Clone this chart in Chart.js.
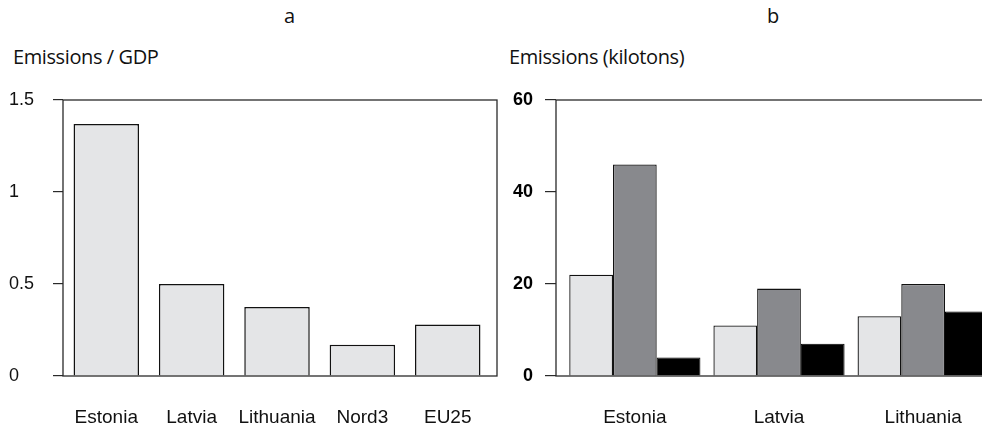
<!DOCTYPE html>
<html>
<head>
<meta charset="utf-8">
<script src="https://cdn.jsdelivr.net/npm/chart.js@4/dist/chart.umd.min.js"></script>
<style>
  html, body { margin: 0; padding: 0; background: #fff; overflow: hidden; }
  body { width: 982px; height: 426px; position: relative; }
  .cap { position: absolute; font-family: "Open Sans", sans-serif; font-size: 20px; color: #111; white-space: nowrap; letter-spacing: -0.4px; line-height: 1; }
  canvas { position: absolute; top: 0; }
</style>
</head>
<body>
<div class="cap" style="left:284px; top:6px;">a</div>
<div class="cap" style="left:767px; top:6px;">b</div>
<div class="cap" style="left:13px; top:47px;">Emissions / GDP</div>
<div class="cap" style="left:509px; top:47px;">Emissions (kilotons)</div>
<div id="leftBox" style="position:absolute;left:0;top:0;width:520px;height:426px;"><canvas id="leftChart"></canvas></div>
<div id="rightBox" style="position:absolute;left:500px;top:0;width:492px;height:426px;"><canvas id="rightChart"></canvas></div>
<script>
// panel a: emissions per unit of GDP
var regions = ["Estonia", "Latvia", "Lithuania", "Nord3", "EU25"];
var perGdp = [1.37, 0.50, 0.375, 0.17, 0.28];
var perGdpTicks = [0, 0.5, 1, 1.5];

// panel b: emissions in kilotons, three series per country
var countries = ["Estonia", "Latvia", "Lithuania"];
var kilotons1 = [22, 11, 13];
var kilotons2 = [46, 19, 20];
var kilotons3 = [4, 7, 14];
var kilotonTicks = [0, 20, 40, 60];

var lineColor = "#2a2a2a";
var arial = "'Liberation Sans', Arial, sans-serif";
var tickFont = { family: arial, size: 18 };
var labelFont = { family: arial, size: 19 };

// box around the plotting area
var frame = {
  id: "frame",
  afterDatasetsDraw(chart) {
    let a = chart.chartArea;
    let c = chart.ctx;
    c.save();
    c.strokeStyle = lineColor;
    c.lineWidth = 1.3;
    c.strokeRect(a.left, a.top, a.right - a.left, a.bottom - a.top);
    c.restore();
  }
};

function toPoints(values) {
  return values.map((v, i) => ({ x: i + 1, y: v }));
}

function xAxis(names, min, max) {
  return {
    type: "linear",
    min: min,
    max: max,
    offset: false,
    grid: { display: false, drawTicks: false },
    border: { display: false },
    afterBuildTicks: s => { s.ticks = names.map((n, i) => ({ value: i + 1 })); },
    afterFit: s => { s.height = 50; },
    ticks: {
      autoSkip: false,
      maxRotation: 0,
      padding: 30,
      color: "#111",
      font: labelFont,
      callback: (v, i) => names[i]
    }
  };
}

new Chart(document.getElementById("leftChart"), {
  type: "bar",
  data: {
    datasets: [{
      data: toPoints(perGdp),
      backgroundColor: "#e4e5e7",
      borderColor: "#111",
      borderWidth: 1.5,
      barPercentage: 0.767,
      categoryPercentage: 1
    }]
  },
  options: {
    responsive: true,
    maintainAspectRatio: false,
    animation: false,
    layout: { padding: { left: 9, right: 23, top: 100, bottom: 0 } },
    plugins: { legend: { display: false }, tooltip: { enabled: false } },
    scales: {
      x: xAxis(regions, 0.493, 5.577),
      y: {
        min: 0,
        max: 1.5,
        afterBuildTicks: s => { s.ticks = perGdpTicks.map(v => ({ value: v })); },
        afterFit: s => { s.width = 54; },
        grid: { drawOnChartArea: false, tickLength: 10, color: lineColor, lineWidth: 1.2 },
        border: { display: false },
        ticks: { crossAlign: "far", padding: 18, color: "#111", font: tickFont, callback: v => String(v) }
      }
    }
  },
  plugins: [frame]
});

new Chart(document.getElementById("rightChart"), {
  type: "bar",
  data: {
    datasets: [{
      data: toPoints(kilotons1),
      backgroundColor: "#e4e5e7",
      borderColor: "#111",
      borderWidth: 1.3
    }, {
      data: toPoints(kilotons2),
      backgroundColor: "#88898d",
      borderColor: "#111",
      borderWidth: 1.3
    }, {
      data: toPoints(kilotons3),
      backgroundColor: "#000",
      borderColor: "#000",
      borderWidth: 1
    }]
  },
  options: {
    responsive: true,
    maintainAspectRatio: false,
    animation: false,
    datasets: { bar: { barPercentage: 1, categoryPercentage: 0.91 } },
    layout: { padding: { left: 0, right: 2, top: 100, bottom: 0 } },
    plugins: { legend: { display: false }, tooltip: { enabled: false } },
    scales: {
      x: xAxis(countries, 0.453, 3.446),
      y: {
        min: 0,
        max: 60,
        afterBuildTicks: s => { s.ticks = kilotonTicks.map(v => ({ value: v })); },
        afterFit: s => { s.width = 56; },
        grid: { drawOnChartArea: false, tickLength: 11, color: lineColor, lineWidth: 1.2 },
        border: { display: false },
        ticks: { padding: 12, color: "#000", font: { family: arial, size: 18, weight: "bold" } }
      }
    }
  },
  plugins: [frame]
});
</script>
</body>
</html>
